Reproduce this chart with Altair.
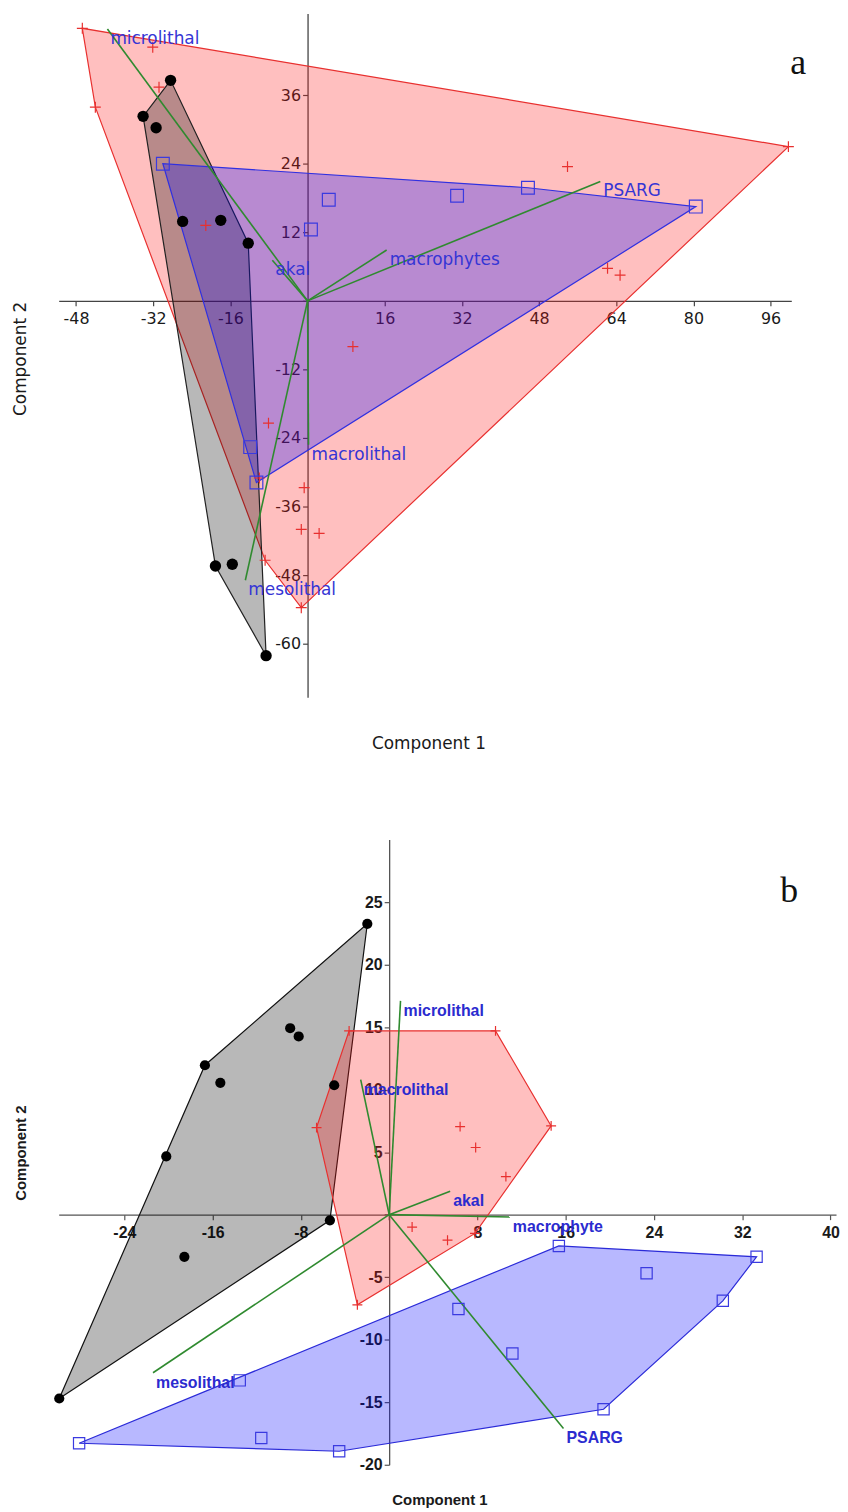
import altair as alt
import pandas as pd

# ---------------- Panel a data ----------------
a_black_x = [-28.4, -34.1, -31.4, -25.9, -18.0, -12.3, -19.1, -15.6, -8.6]
a_black_y = [38.6, 32.3, 30.3, 13.9, 14.1, 10.1, -46.4, -46.1, -62.1]
a_red_x = [-46.7, -32.1, -30.8, -44.0, -21.1, 53.9, 99.7, 62.2, 64.8, 9.4, -8.1, -10.0, -0.7, -1.3, 2.4, -8.8, -1.3]
a_red_y = [47.7, 44.4, 37.4, 33.9, 13.2, 23.5, 27.0, 5.7, 4.5, -8.0, -21.4, -31.0, -32.7, -40.0, -40.7, -45.4, -53.7]
a_blue_x = [-30.0, 4.4, 0.7, 31.0, 45.7, 80.5, -11.9, -10.6]
a_blue_y = [24.0, 17.7, 12.5, 18.4, 19.8, 16.5, -25.6, -31.8]
a_load_names = ["microlithal", "akal", "macrophytes", "PSARG", "macrolithal", "mesolithal"]
a_load_x = [-41.5, -7.3, 16.4, 60.7, 0.2, -12.9]
a_load_y = [47.6, 7.1, 8.9, 20.9, -25.2, -48.9]
a_xticks = [-48, -32, -16, 0, 16, 32, 48, 64, 80, 96]
a_yticks = [-60, -48, -36, -24, -12, 0, 12, 24, 36]

# ---------------- Panel b data ----------------
b_black_x = [-1.98, -4.98, -8.97, -8.2, -16.7, -15.3, -20.2, -18.56, -5.37, -29.9]
b_black_y = [23.26, 10.35, 14.91, 14.25, 11.95, 10.54, 4.66, -3.37, -0.45, -14.7]
b_red_x = [-3.63, 9.64, 14.68, 6.43, 7.84, 10.58, 2.08, 5.29, 7.78, -6.58, -2.88]
b_red_y = [14.7, 14.7, 7.1, 7.04, 5.37, 3.04, -0.99, -2.04, -1.5, 6.96, -7.21]
b_blue_x = [15.38, 33.3, 23.33, 30.24, 6.28, 11.17, 19.43, -13.54, -11.59, -4.53, -28.1]
b_blue_y = [-2.5, -3.37, -4.69, -6.89, -7.55, -11.1, -15.56, -13.25, -17.86, -18.92, -18.28]
b_load_names = ["microlithal", "macrolithal", "akal", "macrophyte", "PSARG", "mesolithal"]
b_load_x = [1.03, -2.58, 5.53, 10.94, 15.8, -21.4]
b_load_y = [17.1, 10.8, 1.88, -0.19, -17.1, -12.64]
b_xticks = [-24, -16, -8, 0, 8, 16, 24, 32, 40]
b_yticks = [-20, -15, -10, -5, 0, 5, 10, 15, 20, 25]

PLUS = "M-1,0L1,0M0,-1L0,1"


def hull(xs, ys):
    pts = sorted(set(zip(xs, ys)))

    def cross(o, a, b):
        return (a[0] - o[0]) * (b[1] - o[1]) - (a[1] - o[1]) * (b[0] - o[0])

    lower, upper = [], []
    for p in pts:
        while len(lower) >= 2 and cross(lower[-2], lower[-1], p) <= 0:
            lower.pop()
        lower.append(p)
    for p in reversed(pts):
        while len(upper) >= 2 and cross(upper[-2], upper[-1], p) <= 0:
            upper.pop()
        upper.append(p)
    h = lower[:-1] + upper[:-1]
    return pd.DataFrame({"x": [p[0] for p in h], "y": [p[1] for p in h], "i": list(range(len(h)))})


LABEL_EXPR = "datum.value == 0 ? '' : (datum.value < 0 ? '-' : '') + abs(datum.value)"


def panel(s):
    W, H = s["W"], s["H"]
    xdom, ydom = s["xdom"], s["ydom"]
    x0px = (0 - xdom[0]) / (xdom[1] - xdom[0]) * W
    y0px = (ydom[1] - 0) / (ydom[1] - ydom[0]) * H
    L, T = s["L"], s["T"]
    xs = alt.Scale(domain=xdom, nice=False, zero=False)
    ys = alt.Scale(domain=ydom, nice=False, zero=False)
    common = dict(
        grid=False, domainColor=s["axcol"], domainWidth=1.3, tickColor=s["axcol"], tickWidth=1.2,
        tickSize=5, labelFont=s["font"], labelFontSize=s["lfs"], labelFontWeight=s["fw"],
        labelColor="#1a1a1a", labelExpr=LABEL_EXPR,
        labelFlush=False, labelOverlap=False, titleFont=s["font"], titleFontSize=s["tfs"],
        titleFontWeight=s["fw"], titleColor="#1a1a1a", titleBaseline="middle", titleAlign="center",
    )
    xaxis = alt.Axis(values=s["xticks"], offset=-(H - y0px), labelPadding=s["xlp"],
                     title="Component 1", titleX=s["xt"][0] - L, titleY=s["xt"][1] - (T + y0px),
                     **common)
    yaxis = alt.Axis(values=s["yticks"], orient="left", offset=-x0px, labelPadding=2,
                     title="Component 2", titleAngle=270, titleX=s["yt"][0] - (L + x0px),
                     titleY=s["yt"][1] - T, **common)

    def X(field="x:Q"):
        return alt.X(field, scale=xs, axis=xaxis)

    def Y(field="y:Q"):
        return alt.Y(field, scale=ys, axis=yaxis)

    layers = []
    for key, fill, stroke in s["hulls"]:
        xs_, ys_ = s[key]
        layers.append(
            alt.Chart(hull(xs_, ys_)).mark_line(
                interpolate="linear-closed", fill=fill, fillOpacity=0.28,
                stroke=stroke, strokeWidth=1.2
            ).encode(x=X(), y=Y(), order="i:Q")
        )
    load = pd.DataFrame({"name": s["lnames"], "x": s["lx"], "y": s["ly"],
                         "ox": [0] * len(s["lx"]), "oy": [0] * len(s["lx"])})
    layers.append(
        alt.Chart(load).mark_rule(color="#2f8a2f", strokeWidth=1.6).encode(
            x=X("ox:Q"), y=Y("oy:Q"), x2="x:Q", y2="y:Q")
    )
    bx, by = s["black"]
    layers.append(
        alt.Chart(pd.DataFrame({"x": bx, "y": by})).mark_point(
            shape="circle", filled=True, color="#000000", opacity=1, size=s["dot"]
        ).encode(x=X(), y=Y())
    )
    rx, ry = s["red"]
    layers.append(
        alt.Chart(pd.DataFrame({"x": rx, "y": ry})).mark_point(
            shape=PLUS, filled=False, color="#e8302f", opacity=1, strokeWidth=1.2, size=s["plus"]
        ).encode(x=X(), y=Y())
    )
    qx, qy = s["blue"]
    layers.append(
        alt.Chart(pd.DataFrame({"x": qx, "y": qy})).mark_point(
            shape="square", filled=False, color="#3a3ae0", opacity=1, strokeWidth=1.2, size=s["sq"]
        ).encode(x=X(), y=Y())
    )
    layers.append(
        alt.Chart(load).mark_text(
            align="left", baseline="middle", dx=3, dy=10, font=s["font"], fontSize=s["lbfs"],
            fontWeight=s["fw"], color=s["lblcol"]
        ).encode(x=X(), y=Y(), text="name:N")
    )
    return alt.layer(*layers).properties(
        width=W, height=H,
        title=alt.TitleParams(s["letter"], anchor="end", orient="top", frame="group",
                              font="Liberation Serif", fontSize=36, fontWeight="normal",
                              color="#111111", offset=0, baseline="alphabetic",
                              dx=s["ldx"], dy=s["ldy"]),
    )


spec_a = dict(
    W=737, H=688, L=58, T=12, xdom=[-51.6, 100.3], ydom=[-69.4, 50.3],
    xticks=a_xticks, yticks=a_yticks, xt=(430, 746), yt=(20, 359), xlp=5,
    font="DejaVu Sans", fw="normal", lfs=16, tfs=17, lbfs=17, axcol="#444444",
    lblcol="#3535d5",
    hulls=[("red", "#ff1a1a", "#e8302f"), ("black", "#000000", "#222222"), ("blue", "#0000ff", "#3030e0")],
    red=(a_red_x, a_red_y), black=(a_black_x, a_black_y), blue=(a_blue_x, a_blue_y),
    lnames=a_load_names, lx=a_load_x, ly=a_load_y,
    dot=130, plus=121, sq=165, letter="a", ldx=15, ldy=97,
)
spec_b = dict(
    W=782, H=629, L=58, T=837, xdom=[-29.95, 40.5], ydom=[-20, 30],
    xticks=b_xticks, yticks=b_yticks, xt=(441, 1501), yt=(20, 1152), xlp=5,
    font="Liberation Sans", fw="bold", lfs=16, tfs=15, lbfs=16, axcol="#555555",
    lblcol="#2b2bcf",
    hulls=[("black", "#000000", "#111111"), ("red", "#ff1a1a", "#e8302f"), ("blue", "#0000ff", "#2a2ad8")],
    red=(b_red_x, b_red_y), black=(b_black_x, b_black_y), blue=(b_blue_x, b_blue_y),
    lnames=b_load_names, lx=b_load_x, ly=b_load_y,
    dot=105, plus=100, sq=128, letter="b", ldx=-38, ldy=99,
)

chart = alt.vconcat(panel(spec_a), panel(spec_b), spacing=89).properties(
    padding={"left": 4, "top": 1, "right": 0, "bottom": 0}
).configure_view(stroke=None)

chart.save("out.html", embed_options={"renderer": "svg", "actions": False})
